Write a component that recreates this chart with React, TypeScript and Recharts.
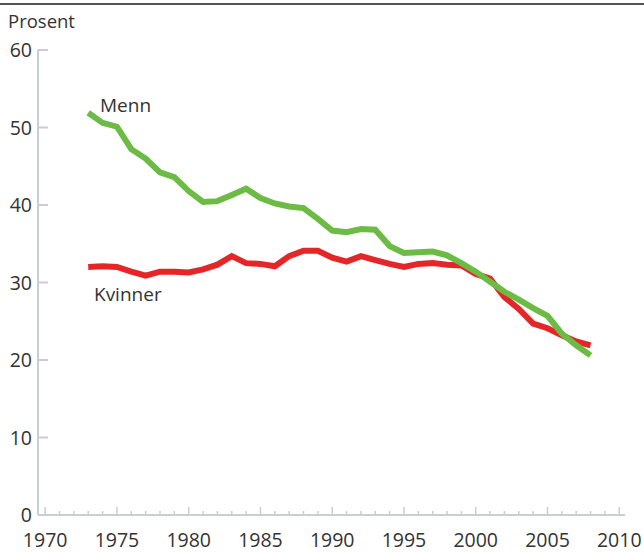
import { LineChart, Line, XAxis, YAxis } from "recharts";

// Andel dagligrøykere, prosent
const years = [
  1973, 1974, 1975, 1976, 1977, 1978, 1979, 1980, 1981, 1982, 1983, 1984,
  1985, 1986, 1987, 1988, 1989, 1990, 1991, 1992, 1993, 1994, 1995, 1996,
  1997, 1998, 1999, 2000, 2001, 2002, 2003, 2004, 2005, 2006, 2007, 2008,
];
const menn = [
  51.9, 50.6, 50.1, 47.2, 46.0, 44.2, 43.6, 41.8, 40.4, 40.5, 41.3, 42.1,
  40.9, 40.2, 39.8, 39.6, 38.2, 36.7, 36.5, 36.9, 36.8, 34.7, 33.8, 33.9,
  34.0, 33.5, 32.5, 31.4, 30.1, 28.8, 27.8, 26.7, 25.7, 23.4, 21.9, 20.6,
];
const kvinner = [
  32.0, 32.1, 32.0, 31.4, 30.9, 31.4, 31.4, 31.3, 31.7, 32.3, 33.4, 32.5,
  32.4, 32.1, 33.4, 34.1, 34.1, 33.2, 32.7, 33.4, 32.9, 32.4, 32.0, 32.4,
  32.5, 32.3, 32.2, 31.1, 30.5, 28.1, 26.6, 24.7, 24.1, 23.2, 22.4, 21.9,
];
const xTicks = Array.from({ length: 41 }, (_, i) => 1970 + i);
const yTicks = [0, 10, 20, 30, 40, 50, 60];

const data = years.map((y, i) => ({ year: y, menn: menn[i], kvinner: kvinner[i] }));

const FONT = "'Open Sans', sans-serif";
const TEXT = "#333";
const AXIS = "#c9cdd6";

const XTick = ({ x, y, payload }: any) => {
  const major = payload.value % 5 === 0;
  return (
    <g>
      <line x1={x} x2={x} y1={y} y2={y - (major ? 8 : 4)} stroke={AXIS} strokeWidth={1.5} />
      {major && (
        <text x={x} y={y + 32} textAnchor="middle" fontSize={19.5} fill={TEXT} fontFamily={FONT}>
          {payload.value}
        </text>
      )}
    </g>
  );
};

const YTick = ({ x, y, payload }: any) => (
  <g>
    <line x1={x} x2={x + 10} y1={y} y2={y} stroke={AXIS} strokeWidth={2} />
    <text x={x - 6} y={y + 7} textAnchor="end" fontSize={19.5} fill={TEXT} fontFamily={FONT}>
      {payload.value}
    </text>
  </g>
);

export default function App() {
  return (
    <div style={{ position: "absolute", left: 0, top: 0, width: 644, height: 552, background: "#fff", fontFamily: FONT }}>
      <div style={{ position: "absolute", left: 0, top: 3, width: 644, height: 2, background: "#555" }} />
      <div style={{ position: "absolute", left: 8, top: 8, fontSize: 18.5, color: TEXT }}>Prosent</div>
      <div style={{ position: "absolute", left: 100, top: 92, fontSize: 19, color: TEXT }}>Menn</div>
      <div style={{ position: "absolute", left: 94, top: 281, fontSize: 19, color: TEXT }}>Kvinner</div>
      <LineChart
        width={644}
        height={552}
        data={data}
        margin={{ top: 50, right: 19, left: 0, bottom: 0 }}
      >
        <XAxis
          dataKey="year"
          type="number"
          domain={[1969.5, 2010.4]}
          ticks={xTicks}
          interval={0}
          height={37}
          tickSize={0}
          tickMargin={0}
          axisLine={{ stroke: AXIS, strokeWidth: 2 }}
          tickLine={false}
          tick={<XTick />}
        />
        <YAxis
          domain={[0, 60]}
          ticks={yTicks}
          width={38}
          tickSize={0}
          tickMargin={0}
          axisLine={{ stroke: AXIS, strokeWidth: 2 }}
          tickLine={false}
          tick={<YTick />}
        />
        <Line
          type="linear"
          dataKey="kvinner"
          stroke="#e52629"
          strokeWidth={6}
          dot={false}
          isAnimationActive={false}
        />
        <Line
          type="linear"
          dataKey="menn"
          stroke="#6cbb45"
          strokeWidth={6}
          dot={false}
          isAnimationActive={false}
        />
      </LineChart>
    </div>
  );
}
